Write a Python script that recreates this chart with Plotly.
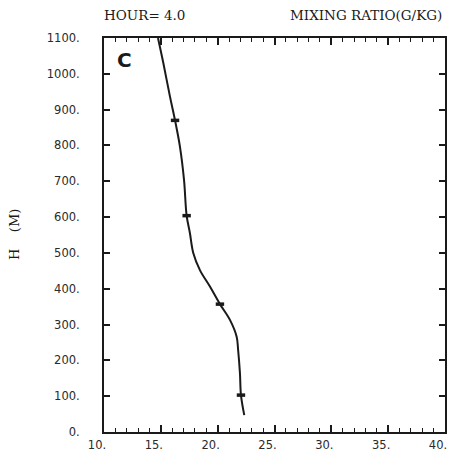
import plotly.graph_objects as go

# curve (height in m, mixing ratio g/kg)
heights = [1100, 1030, 937, 870, 797, 704, 604, 555, 499, 452, 406, 357, 313, 266, 229, 164, 103, 47]
mixing = [14.75, 15.22, 15.8, 16.25, 16.68, 17.04, 17.27, 17.56, 17.86, 18.44, 19.32, 20.2, 21.08, 21.67, 21.8, 21.96, 22.05, 22.34]

# marked levels
mark_heights = [870, 604, 357, 103]
mark_mixing = [16.25, 17.27, 20.2, 22.05]

x_ticks = [10, 15, 20, 25, 30, 35, 40]
x_labels = ["10.", "15.", "20.", "25.", "30.", "35.", "40."]
y_ticks = list(range(0, 1101, 100))
y_labels = [f"{v}." for v in y_ticks]

ink = "#1a1a1a"
tick_font = dict(family="DejaVu Sans, sans-serif", size=11.5, color="#2a2a2a")
title_font = dict(family="DejaVu Serif, serif", size=13.5, color=ink)

fig = go.Figure()
fig.add_trace(go.Scatter(x=mixing, y=heights, mode="lines",
                         line=dict(color=ink, width=2, shape="spline", smoothing=1.0),
                         hoverinfo="skip", showlegend=False))
fig.add_trace(go.Scatter(x=mark_mixing, y=mark_heights, mode="markers",
                         marker=dict(symbol="line-ew", size=6, line=dict(color=ink, width=3.5)),
                         showlegend=False))

fig.update_layout(
    width=450, height=456,
    margin=dict(l=104, r=5, t=38, b=24),
    paper_bgcolor="white", plot_bgcolor="white",
    font=dict(family="DejaVu Sans, sans-serif", size=11, color=ink),
    xaxis=dict(range=[10, 40], tickvals=x_ticks, ticktext=x_labels, automargin=False,
               showgrid=False, zeroline=False, showline=True, linecolor=ink, linewidth=2,
               mirror="ticks", ticks="inside", ticklen=7, tickwidth=1.5, tickcolor=ink,
               minor=dict(dtick=1, ticks="inside", ticklen=4, tickwidth=1.2, tickcolor=ink),
               tickfont=tick_font, ticklabelshift=-7, ticklabelstandoff=1),
    yaxis=dict(range=[0, 1100], tickvals=y_ticks, ticktext=y_labels, automargin=False,
               showgrid=False, zeroline=False, showline=True, linecolor=ink, linewidth=2,
               mirror="ticks", ticks="inside", ticklen=6, tickwidth=1.5, tickcolor=ink,
               tickfont=tick_font, ticklabelstandoff=20),
    annotations=[
        dict(text="HOUR= 4.0", xref="paper", yref="paper", x=-0.006, y=1.0, yshift=23,
             showarrow=False, xanchor="left", yanchor="middle", font=title_font),
        dict(text="MIXING RATIO(G/KG)", xref="paper", yref="paper", x=1.0, xshift=-1, y=1.0, yshift=23,
             showarrow=False, xanchor="right", yanchor="middle", font=title_font),
        dict(text="H\u00a0\u00a0\u00a0\u00a0(M)", xref="paper", yref="paper", x=0, xshift=-90, y=0.5,
             textangle=-90, showarrow=False, xanchor="center", yanchor="middle",
             font=dict(family="DejaVu Serif, serif", size=13, color=ink)),
        dict(text="<b>C</b>", xref="paper", yref="paper", x=0.032, y=0.944,
             showarrow=False, xanchor="left", yanchor="middle",
             font=dict(family="DejaVu Sans, sans-serif", size=20, color=ink)),
    ],
)

fig.write_html("out.html", config={"displayModeBar": False},
               post_script="document.body.style.margin='0';document.body.style.overflow='hidden';")
